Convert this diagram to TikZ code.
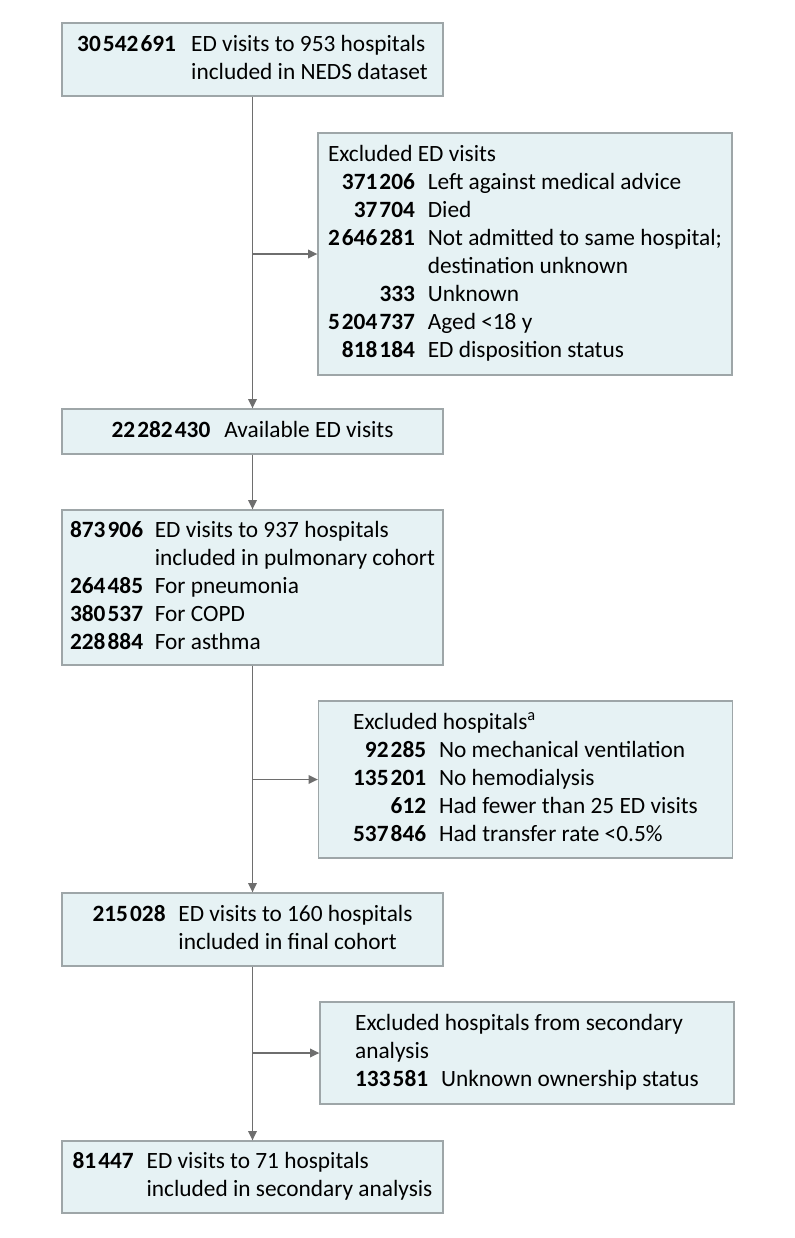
\documentclass[tikz,border=0pt]{standalone}
\usepackage{fontspec}
\setmainfont{Carlito}
\usetikzlibrary{arrows.meta}

\definecolor{boxfill}{RGB}{230,242,244}
\definecolor{boxline}{RGB}{158,166,168}
\definecolor{flowgray}{RGB}{110,110,110}
\newcommand{\cnt}[1]{\textbf{#1}}
\newcommand{\thsp}{\hspace{0.09em}}

\begin{document}
\begin{tikzpicture}[x=0.75pt,y=-0.75pt]
    \tikzstyle{main box}=[draw=boxline, fill=boxfill, line width=1pt, minimum width=285.75pt, inner sep=4pt, font=\fontsize{17.5}{21}\selectfont];
    \tikzstyle{side box}=[main box, minimum width=310.5pt];
    \tikzstyle{flow}=[flowgray, line width=1pt, -{Triangle[length=7pt,width=6.5pt]}];

    \useasboundingbox (0,0) rectangle (794,1238);

    \node[main box, minimum height=54.75pt] (neds) at (252.5,59.5) {\begin{tabular}{@{}r@{\hspace{0.65em}}l@{}}
        \cnt{30\thsp542\thsp691} & ED visits to 953 hospitals\\
        & included in NEDS dataset
    \end{tabular}};

    \node[side box, minimum height=181.5pt] (exvisits) at (525,254) {\begin{tabular}{@{}r@{\hspace{0.55em}}l@{}}
        \multicolumn{2}{@{}l@{}}{Excluded ED visits}\\
        \cnt{371\thsp206} & Left against medical advice\\
        \cnt{37\thsp704} & Died\\
        \cnt{2\thsp646\thsp281} & Not admitted to same hospital;\\
        & destination unknown\\
        \cnt{333} & Unknown\\
        \cnt{5\thsp204\thsp737} & Aged <18 y\\
        \cnt{818\thsp184} & ED disposition status
    \end{tabular}};

    \node[main box, minimum height=33.75pt] (avail) at (252.5,431.5) {\begin{tabular}{@{}r@{\hspace{0.6em}}l@{}}
        \cnt{22\thsp282\thsp430} & Available ED visits
    \end{tabular}};

    \node[main box, minimum height=116.25pt] (pulm) at (252.5,587.5) {\begin{tabular}{@{}r@{\hspace{0.5em}}l@{}}
        \cnt{873\thsp906} & ED visits to 937 hospitals\\
        & included in pulmonary cohort\\
        \cnt{264\thsp485} & For pneumonia\\
        \cnt{380\thsp537} & For COPD\\
        \cnt{228\thsp884} & For asthma
    \end{tabular}};

    \node[side box, minimum height=117.75pt] (exhosp) at (525.5,779.5) {\begin{tabular}{@{}r@{\hspace{0.55em}}l@{}}
        \multicolumn{2}{@{}l@{}}{Excluded hospitals\textsuperscript{a}}\\
        \cnt{92\thsp285} & No mechanical ventilation\\
        \cnt{135\thsp201} & No hemodialysis\\
        \cnt{612} & Had fewer than 25 ED visits\\
        \cnt{537\thsp846} & Had transfer rate <0.5\%
    \end{tabular}};

    \node[main box, minimum height=54.75pt] (final) at (252.5,929.5) {\begin{tabular}{@{}r@{\hspace{0.55em}}l@{}}
        \cnt{215\thsp028} & ED visits to 160 hospitals\\
        & included in final cohort
    \end{tabular}};

    \node[side box, minimum height=76.5pt] (exsec) at (527,1053) {\begin{tabular}{@{}r@{\hspace{0.55em}}l@{}}
        \multicolumn{2}{@{}l@{}}{Excluded hospitals from secondary}\\
        \multicolumn{2}{@{}l@{}}{analysis}\\
        \cnt{133\thsp581} & Unknown ownership status
    \end{tabular}};

    \node[main box, minimum height=54pt] (second) at (252.5,1177) {\begin{tabular}{@{}r@{\hspace{0.55em}}l@{}}
        \cnt{81\thsp447} & ED visits to 71 hospitals\\
        & included in secondary analysis
    \end{tabular}};

    \coordinate (j1) at (neds.south |- exvisits.west);
    \coordinate (j2) at (pulm.south |- exhosp.west);
    \coordinate (j3) at (final.south |- exsec.west);

    \draw[flow] (neds) -- (avail);
    \draw[flow] (j1) -- (exvisits);
    \draw[flow] (avail) -- (pulm);
    \draw[flow] (pulm) -- (final);
    \draw[flow] (j2) -- (exhosp);
    \draw[flow] (final) -- (second);
    \draw[flow] (j3) -- (exsec);

\end{tikzpicture}
\end{document}
